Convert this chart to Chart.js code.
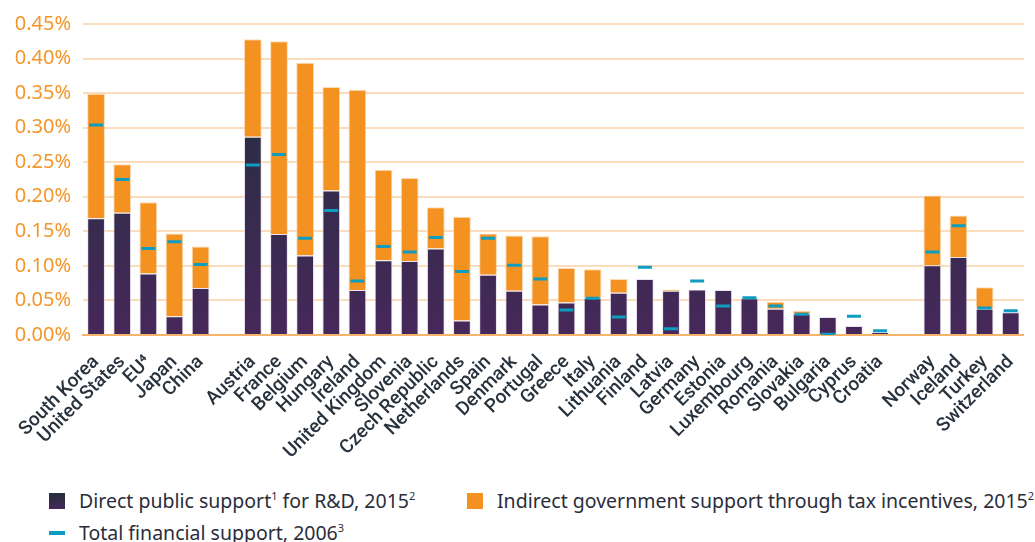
<!DOCTYPE html>
<html lang="en">
<head>
    <meta charset="UTF-8">
    <title>Public support for business R&amp;D</title>
    <script src="https://cdn.jsdelivr.net/npm/chart.js"></script>
    <style>
        body {
            margin: 0;
            padding: 0;
            background: #ffffff;
            font-family: "Noto Sans", Arial, sans-serif;
        }

        .wrap {
            position: relative;
            width: 1035px;
            height: 542px;
        }

        .chart-box {
            position: absolute;
            left: 0;
            top: 0;
            width: 1035px;
            height: 478px;
        }

        .legend-item {
            position: absolute;
            font-size: 19.5px;
            color: #2b2d3a;
            white-space: nowrap;
            line-height: 22px;
        }

        .legend-item sup {
            font-size: 11px;
            vertical-align: 8px;
            line-height: 0;
        }

        .swatch {
            position: absolute;
            left: -30px;
            top: 3px;
            width: 16px;
            height: 16px;
        }

        .dash {
            position: absolute;
            left: -30px;
            top: 9px;
            width: 16px;
            height: 4px;
            background: #0e9dc1;
        }
    </style>
</head>
<body>

    <div class="wrap">
        <div class="chart-box">
            <canvas id="supportChart"></canvas>
        </div>

        <div class="legend-item" style="left:79px; top:490px;">
            <span class="swatch" style="background: linear-gradient(#262f3a, #45285a);"></span>
            Direct public support<sup>1</sup> for R&amp;D, 2015<sup>2</sup>
        </div>
        <div class="legend-item" style="left:497px; top:490px;">
            <span class="swatch" style="background:#f39220;"></span>
            Indirect government support through tax incentives, 2015<sup>2</sup>
        </div>
        <div class="legend-item" style="left:79px; top:522px;">
            <span class="dash"></span>
            Total financial support, 2006<sup>3</sup>
        </div>
    </div>

    <script>
        // Countries (empty strings are the gaps between groups)
        const countries = [
            'South Korea', 'United States', 'EU\u2074', 'Japan', 'China', '',
            'Austria', 'France', 'Belgium', 'Hungary', 'Ireland', 'United Kingdom',
            'Slovenia', 'Czech Republic', 'Netherlands', 'Spain', 'Denmark', 'Portugal',
            'Greece', 'Italy', 'Lithuania', 'Finland', 'Latvia', 'Germany', 'Estonia',
            'Luxembourg', 'Romania', 'Slovakia', 'Bulgaria', 'Cyprus', 'Croatia', '',
            'Norway', 'Iceland', 'Turkey', 'Switzerland'
        ];

        // % of GDP, direct public support 2015
        const directSupport = [
            0.169, 0.177, 0.089, 0.027, 0.068, null,
            0.287, 0.146, 0.115, 0.209, 0.065, 0.108,
            0.107, 0.125, 0.021, 0.087, 0.064, 0.044,
            0.047, 0.054, 0.061, 0.081, 0.064, 0.066, 0.065,
            0.053, 0.038, 0.031, 0.026, 0.013, 0.004, null,
            0.101, 0.113, 0.038, 0.033
        ];

        // % of GDP, indirect support through tax incentives 2015
        const indirectSupport = [
            0.180, 0.070, 0.103, 0.120, 0.060, null,
            0.141, 0.279, 0.279, 0.150, 0.290, 0.131,
            0.120, 0.060, 0.150, 0.060, 0.080, 0.099,
            0.050, 0.041, 0.020, 0, 0.002, 0, 0,
            0, 0.010, 0.004, 0, 0, 0, null,
            0.101, 0.060, 0.031, 0
        ];

        // % of GDP, total financial support 2006
        const total2006 = [
            0.304, 0.225, 0.125, 0.135, 0.102, null,
            0.246, 0.261, 0.140, 0.180, 0.078, 0.128,
            0.120, 0.141, 0.092, 0.140, 0.101, 0.081,
            0.036, 0.053, 0.026, 0.098, 0.009, 0.078, 0.042,
            0.054, 0.042, 0.030, 0.001, 0.027, 0.006, null,
            0.120, 0.158, 0.039, 0.035
        ];

        const yTicks = [0, 0.05, 0.10, 0.15, 0.20, 0.25, 0.30, 0.35, 0.40, 0.45];

        let directGradient = null;
        function directColor(context) {
            const chart = context.chart;
            const area = chart.chartArea;
            if (!area) return '#3a2c4c';
            if (!directGradient) {
                directGradient = chart.ctx.createLinearGradient(0, area.top, 0, area.bottom);
                directGradient.addColorStop(0, '#1f303a');
                directGradient.addColorStop(1, '#46285a');
            }
            return directGradient;
        }

        const ctx = document.getElementById('supportChart').getContext('2d');
        new Chart(ctx, {
            type: 'bar',
            data: {
                labels: countries,
                datasets: [
                    {
                        label: 'Direct public support for R&D, 2015',
                        data: directSupport,
                        backgroundColor: directColor,
                        borderColor: 'rgba(225, 215, 235, 0.7)',
                        borderWidth: 1,
                        barPercentage: 0.68,
                        categoryPercentage: 1,
                        stack: 'support',
                        order: 1
                    },
                    {
                        label: 'Indirect government support through tax incentives, 2015',
                        data: indirectSupport,
                        backgroundColor: '#f39220',
                        borderColor: 'rgba(250, 210, 160, 0.8)',
                        borderWidth: 1,
                        barPercentage: 0.68,
                        categoryPercentage: 1,
                        stack: 'support',
                        order: 1
                    },
                    {
                        type: 'line',
                        label: 'Total financial support, 2006',
                        data: total2006,
                        showLine: false,
                        pointStyle: 'line',
                        pointRadius: 7,
                        pointHoverRadius: 7,
                        borderWidth: 3,
                        borderColor: '#0e9dc1',
                        backgroundColor: '#0e9dc1',
                        stack: 'old',
                        order: 0
                    }
                ]
            },
            options: {
                responsive: true,
                maintainAspectRatio: false,
                animation: false,
                layout: {
                    padding: { top: 22, right: 0, bottom: 0, left: 0 }
                },
                plugins: {
                    legend: { display: false },
                    tooltip: { enabled: false }
                },
                scales: {
                    x: {
                        stacked: true,
                        grid: { display: false },
                        border: { color: '#f6b36a', width: 2 },
                        ticks: {
                            autoSkip: false,
                            maxRotation: 45,
                            minRotation: 45,
                            padding: 8,
                            color: '#27323d',
                            font: { family: 'Roboto', size: 19, weight: '500' }
                        },
                        afterFit: (scale) => { scale.height = 478 - 22 - 313; }
                    },
                    y: {
                        stacked: true,
                        min: 0,
                        max: 0.45,
                        afterBuildTicks: (scale) => {
                            scale.ticks = yTicks.map(v => ({ value: v }));
                        },
                        afterFit: (scale) => { scale.width = 83; },
                        grid: {
                            color: '#fbdcbd',
                            lineWidth: 2,
                            drawTicks: false
                        },
                        border: { display: false },
                        ticks: {
                            padding: 12,
                            color: '#f3962c',
                            font: { family: 'Noto Sans', size: 20 },
                            callback: (v) => v.toFixed(2) + '%'
                        }
                    }
                }
            }
        });
    </script>

</body>
</html>
